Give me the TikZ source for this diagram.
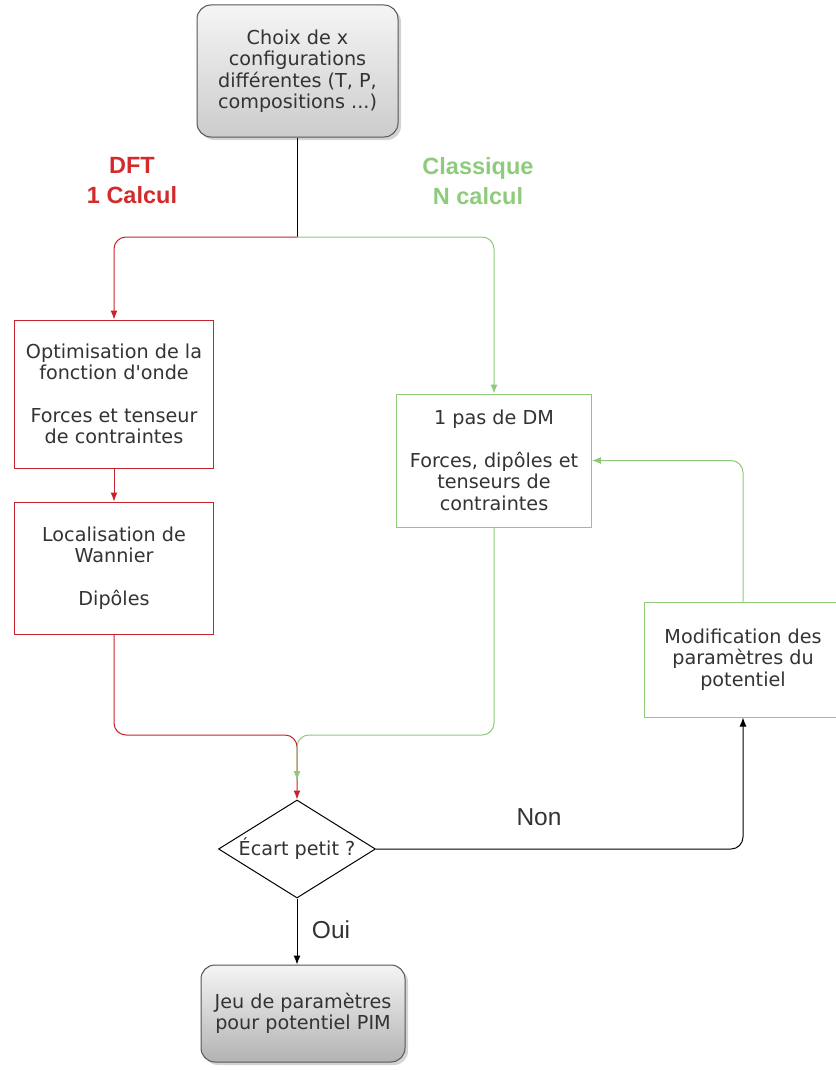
\documentclass[tikz,border=0pt]{standalone}
\usepackage{fontspec}
\setmainfont{DejaVu Sans}[Ligatures=TeXOff]
\newfontfamily\arialf{Liberation Sans}
\usetikzlibrary{shapes.geometric,arrows.meta,shadows}
\definecolor{redc}{HTML}{C8232C}
\definecolor{redt}{HTML}{D42A2A}
\definecolor{greenc}{HTML}{8DC97B}
\definecolor{greent}{HTML}{8FCB7D}
\definecolor{txt}{HTML}{333333}
\definecolor{grayb}{HTML}{555555}
\begin{document}
\begin{tikzpicture}[x=1pt,y=-1pt,
  boxtext/.style={align=center, text=txt, font=\fontsize{19.2}{21.5}\selectfont, inner sep=0pt},
  graybox/.style={boxtext, draw=grayb, line width=1pt, rounded corners=14pt,
     drop shadow={shadow xshift=3pt, shadow yshift=-3pt, opacity=0.35, fill=black!50}},
  redbox/.style={boxtext, draw=redc, line width=1pt, fill=white},
  greenbox/.style={boxtext, draw=greenc, line width=1pt, fill=white},
  tip/.style={-{Latex[length=9pt,width=7pt]}},
  redline/.style={draw=redc, line width=1pt, rounded corners=12pt},
  greenline/.style={draw=greenc, line width=1pt, rounded corners=12pt},
  blackline/.style={draw=black, line width=1pt, rounded corners=12pt},
  lbl/.style={align=center, inner sep=0pt},
  bigbold/.style={font=\arialf\bfseries\fontsize{23.5}{30}\selectfont},
  answer/.style={text=txt, font=\arialf\fontsize{24.5}{26}\selectfont},
]
\useasboundingbox (0,0) rectangle (835,1070);

% nodes
\node[graybox, top color=black!4, bottom color=black!20, minimum width=201pt, minimum height=132pt] (top) at (297.5,71)
  {Choix de x\\configurations\\différentes (T, P,\\compositions ...)};

\node[lbl, bigbold, text=redt] (dft) at (132,181) {DFT\\1 Calcul};
\node[lbl, bigbold, text=greent] (cla) at (478,181) {Classique\\N calcul};

\node[redbox, minimum width=199pt, minimum height=148pt] (opt) at (114,394)
  {Optimisation de la\\fonction d'onde\\[21pt]Forces et tenseur\\de contraintes};
\node[redbox, minimum width=199pt, minimum height=132pt] (wan) at (114,568)
  {Localisation de\\Wannier\\[21pt]Dipôles};

\node[greenbox, minimum width=195pt, minimum height=133pt] (dm) at (494,460.5)
  {1 pas de DM\\[21pt]Forces, dipôles et\\tenseurs de\\contraintes};

\node[greenbox, minimum width=198pt, minimum height=115pt] (mod) at (743,659.5)
  {Modification des\\paramètres du\\potentiel};

\node[diamond, draw=black, line width=1pt, fill=white, minimum width=157pt, minimum height=98pt, inner sep=0pt] (dia) at (297,849) {};
\node[boxtext] (diat) at (297,849) {Écart petit ?};

\node[graybox, top color=black!4, bottom color=black!30, minimum width=204pt, minimum height=97pt] (bot) at (303,1013.5)
  {Jeu de paramètres\\pour potentiel PIM};

\node[lbl, answer] (non) at (539,817) {Non};
\node[lbl, answer] (oui) at (331,930) {Oui};

% connectors
\coordinate (split) at (297,237);
\coordinate (merge) at (297,735);
\coordinate (gtip) at (297,780);

\draw[blackline] (top.south -| split) -- (split);
\draw[redline, tip] (split) -| (opt.north);
\draw[greenline, tip] (split) -| (dm.north);
\draw[redline, tip] (opt.south) -- (wan.north);
\draw[redline, tip] (wan.south) |- (merge) -- (dia.north);
\draw[greenline, tip] (dm.south) |- (merge) -- (gtip);
\draw[blackline, tip] (dia.east) -| (mod.south);
\draw[greenline, tip] (mod.north) |- (dm.east);
\draw[blackline, tip] (dia.south) -- (dia.south |- bot.north);
\end{tikzpicture}
\end{document}
